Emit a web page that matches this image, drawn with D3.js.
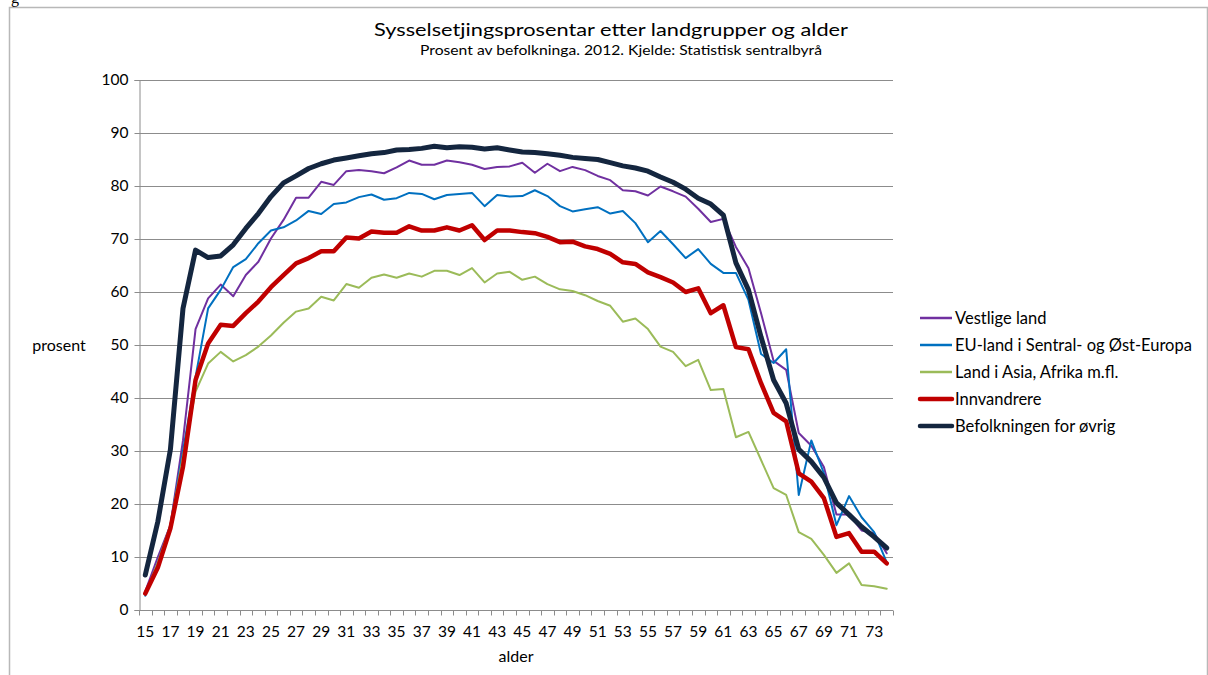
<!DOCTYPE html>
<html><head><meta charset="utf-8">
<script src="https://cdn.jsdelivr.net/npm/d3@7"></script>
<style>body{margin:0;background:#fff}svg{display:block}text{font-family:Lato,"Open Sans",sans-serif;fill:#000}</style>
</head><body><svg id="c" width="1208" height="675"></svg>
<script>
const ages = d3.range(15, 75);
const seriesNames = ["Vestlige land","EU-land i Sentral- og Øst-Europa","Land i Asia, Afrika m.fl.","Innvandrere","Befolkningen for øvrig"];
const vestlige = [3.5,10,16,32,53,58.8,61.4,59.2,63.2,65.7,70.1,73.6,77.8,77.8,80.8,80.2,82.8,83,82.8,82.4,83.5,84.8,84,84,84.8,84.5,84,83.2,83.6,83.7,84.4,82.5,84.2,82.8,83.6,83,81.9,81.1,79.2,79,78.2,79.9,79,78,75.7,73.2,73.8,68.5,64.5,56,47,45.3,33.4,31,27,18,18,15,14.5,10.7];
const euOst = [2.7,9,16,30,44,56.9,60.4,64.7,66.2,69.2,71.6,72.2,73.5,75.3,74.7,76.6,76.9,77.9,78.4,77.4,77.7,78.7,78.5,77.5,78.3,78.5,78.7,76.2,78.3,78,78.1,79.2,78.1,76.2,75.2,75.6,76,74.8,75.3,73,69.4,71.5,69,66.4,68.1,65.3,63.6,63.6,58.5,48.3,46.6,49.2,21.7,32,25.8,16,21.5,17.5,14.7,9];
const asiaAfrika = [3,9,16,29,41.2,46.5,48.7,46.9,48.1,49.7,51.8,54.2,56.3,56.9,59.1,58.4,61.5,60.8,62.7,63.3,62.7,63.5,62.9,64,64,63.2,64.5,61.8,63.5,63.8,62.3,62.9,61.5,60.5,60.2,59.4,58.3,57.4,54.4,55,53,49.7,48.7,46,47.2,41.5,41.7,32.6,33.6,28.3,23,21.7,14.7,13.4,10.4,7,8.8,4.7,4.5,4];
const innvandrere = [3.1,8,15.4,27,43.4,50.3,53.8,53.6,56,58.2,60.9,63.2,65.4,66.4,67.7,67.7,70.3,70.1,71.4,71.2,71.2,72.4,71.6,71.6,72.2,71.6,72.6,69.8,71.6,71.6,71.3,71.1,70.4,69.4,69.5,68.6,68.1,67.2,65.6,65.3,63.7,62.8,61.8,60,60.7,56,57.5,49.6,49.2,42.8,37.2,35.6,25.8,24.2,21.1,13.8,14.5,11,11,8.8];
const befolkningen = [6.6,16.7,30.3,56.9,67.9,66.5,66.8,68.9,72,74.8,78,80.6,81.9,83.3,84.2,84.9,85.3,85.7,86.1,86.3,86.8,86.9,87.1,87.5,87.2,87.4,87.3,87,87.2,86.8,86.4,86.3,86.1,85.8,85.4,85.2,85,84.4,83.8,83.4,82.8,81.7,80.7,79.4,77.7,76.6,74.5,65.5,60.4,51.5,43.4,39,30.3,28,25,20.2,18,15.7,13.8,11.7];
const yTicks = [0,10,20,30,40,50,60,70,80,90,100];
const xLabels = ages.filter(a => a % 2 === 1);

const series = [
  {name: seriesNames[0], values: vestlige, color: "#7030A0", w: 2},
  {name: seriesNames[1], values: euOst, color: "#0070C0", w: 2},
  {name: seriesNames[2], values: asiaAfrika, color: "#9BBB59", w: 2},
  {name: seriesNames[3], values: innvandrere, color: "#C00000", w: 4.5},
  {name: seriesNames[4], values: befolkningen, color: "#14263F", w: 5}
];

const svg = d3.select("#c");
// frame
svg.append("path").attr("d","M9.5,700 V7.5 H1207.5 V700").attr("fill","none").attr("stroke","#b8b8b8").attr("stroke-width",1.5);
svg.append("text").attr("x",11).attr("y",3).style("font-family","Liberation Serif").style("font-size","16px").text("g");

const L = 139, R = 893, T = 80, B = 610;
const x = d3.scaleBand().domain(ages).range([L, R]).padding(0);
const y = d3.scaleLinear().domain([0, 100]).range([B, T]);

// gridlines
svg.append("g").selectAll("line").data(yTicks.filter(d=>d>0)).join("line")
  .attr("x1", L).attr("x2", R).attr("y1", d => y(d)+0.5).attr("y2", d => y(d)+0.5)
  .attr("stroke", "#8c8c8c").attr("stroke-width", 1);

// y axis
const ya = svg.append("g").attr("transform", `translate(${L+0.5},0)`)
  .call(d3.axisLeft(y).tickValues(yTicks).tickSize(5).tickPadding(6).tickFormat(d3.format("d")));
ya.select(".domain").attr("stroke", "#8c8c8c");
ya.selectAll(".tick line").attr("stroke", "#8c8c8c");
ya.selectAll(".tick text").style("font-size", "15.5px").style("font-family", "Lato,sans-serif").attr("fill","#000");

// x axis
const xa = svg.append("g").attr("transform", `translate(0,${B+0.5})`);
xa.append("line").attr("x1", L).attr("x2", R).attr("stroke", "#8c8c8c");
xa.selectAll("line.t").data(d3.range(ages.length+1)).join("line").attr("class","t")
  .attr("x1", i => Math.round(L + i*x.bandwidth())+0.5).attr("x2", i => Math.round(L + i*x.bandwidth())+0.5)
  .attr("y1", 0).attr("y2", 5).attr("stroke", "#8c8c8c");
xa.selectAll("text").data(xLabels).join("text")
  .attr("x", d => x(d) + x.bandwidth()/2).attr("y", 26).attr("text-anchor","middle")
  .style("font-size","15.5px").text(d => d);

// lines
const line = d3.line().x((d,i) => x(ages[i]) + x.bandwidth()/2).y(d => y(d));
svg.append("g").selectAll("path").data(series).join("path")
  .attr("d", s => line(s.values)).attr("fill","none")
  .attr("stroke", s => s.color).attr("stroke-width", s => s.w)
  .attr("stroke-linejoin","round").attr("stroke-linecap","round");

// titles
svg.append("text").attr("x", 611).attr("y", 36).attr("text-anchor","middle")
  .style("font-size","18px").attr("textLength",474).attr("lengthAdjust","spacingAndGlyphs")
  .text("Sysselsetjingsprosentar etter landgrupper og alder");
svg.append("text").attr("x", 621).attr("y", 55).attr("text-anchor","middle")
  .style("font-size","13.5px").attr("textLength",402).attr("lengthAdjust","spacingAndGlyphs")
  .text("Prosent av befolkninga. 2012. Kjelde: Statistisk sentralbyrå");
svg.append("text").attr("x", 59).attr("y", 351).attr("text-anchor","middle").style("font-size","16px").text("prosent");
svg.append("text").attr("x", 516).attr("y", 662).attr("text-anchor","middle").style("font-size","16px").text("alder");

// legend
const lg = svg.append("g");
series.forEach((s, i) => {
  const yy = 318 + i*27;
  lg.append("line").attr("x1", 920).attr("x2", 952).attr("y1", yy).attr("y2", yy)
    .attr("stroke", s.color).attr("stroke-width", s.w > 3 ? 4.5 : 2.5).attr("stroke-linecap", s.w>3?"round":"butt");
  lg.append("text").attr("x", 955).attr("y", yy+5.5).style("font-size","16.5px").text(s.name);
});
</script></body></html>
